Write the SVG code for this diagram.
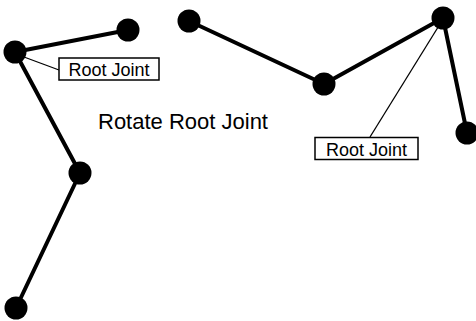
<svg xmlns="http://www.w3.org/2000/svg" width="476" height="321" viewBox="0 0 476 321">
<style>
.bone{stroke:#000;stroke-width:4;fill:none;stroke-linecap:round}
.lead{stroke:#000;stroke-width:1.3;fill:none}
.joint{fill:#000}
.box{fill:#fff;stroke:#000;stroke-width:1.5}
.lbl{font-family:"Liberation Sans",Arial,sans-serif;font-size:18px;fill:#000}
.title{font-family:"Liberation Sans",Arial,sans-serif;font-size:22px;fill:#000}
</style>
<rect width="476" height="321" fill="#fff"/>
<g id="connectors">
<line class="bone" x1="15" y1="52" x2="128" y2="30"/>
<line class="bone" x1="15" y1="52" x2="80" y2="173"/>
<line class="bone" x1="80" y1="173" x2="16" y2="308"/>
<line class="bone" x1="189" y1="21" x2="324" y2="84"/>
<line class="bone" x1="324" y1="84" x2="443" y2="18"/>
<line class="bone" x1="443" y1="18" x2="467" y2="133"/>
<line class="lead" x1="24" y1="57" x2="59" y2="70"/>
<line class="lead" x1="440" y1="24" x2="370" y2="137"/>
</g>
<g id="jointA"><circle class="joint" cx="15" cy="52" r="11.5"/></g>
<g id="jointB"><circle class="joint" cx="128" cy="30" r="11.5"/></g>
<g id="jointC"><circle class="joint" cx="80" cy="173" r="11.5"/></g>
<g id="jointD"><circle class="joint" cx="16" cy="308" r="11.5"/></g>
<g id="jointE"><circle class="joint" cx="189" cy="21" r="11.5"/></g>
<g id="jointF"><circle class="joint" cx="324" cy="84" r="11.5"/></g>
<g id="jointG"><circle class="joint" cx="443" cy="18" r="11.5"/></g>
<g id="jointH"><circle class="joint" cx="467" cy="133" r="11.5"/></g>
<g id="label1">
<rect class="box" x="59" y="58" width="100" height="22"/>
<text class="lbl" x="109" y="76" text-anchor="middle">Root Joint</text>
</g>
<g id="label2">
<rect class="box" x="315" y="137.5" width="103" height="22"/>
<text class="lbl" x="366.5" y="155.5" text-anchor="middle">Root Joint</text>
</g>
<g id="title">
<text class="title" x="98" y="129">Rotate Root Joint</text>
</g>
</svg>
